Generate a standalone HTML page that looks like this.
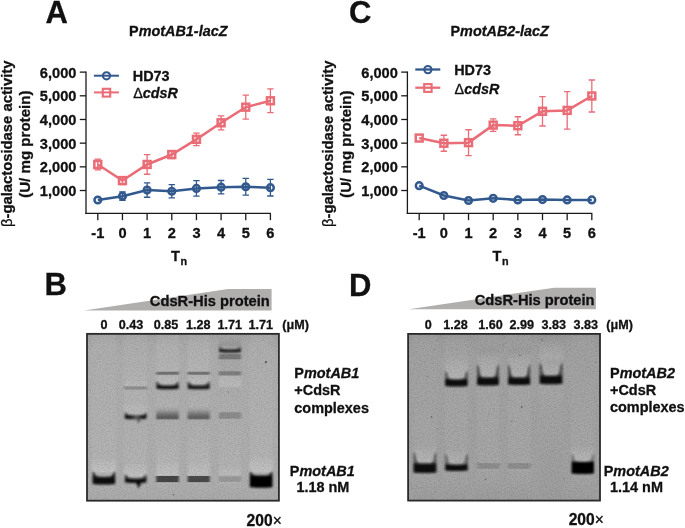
<!DOCTYPE html>
<html><head><meta charset="utf-8"><style>
html,body{margin:0;padding:0;background:#fff;}
svg{display:block;filter:blur(0.35px);}
text{font-family:"Liberation Sans", sans-serif;fill:#111;stroke:#111;stroke-width:0.3px;}
.tk{font-size:14.6px;font-weight:bold;}
.lg{font-size:14.4px;font-weight:bold;}
.ti{font-size:14.4px;font-weight:bold;}
.yl{font-weight:bold;}
.pl{font-size:31px;font-weight:bold;}
.gh{font-size:14.7px;font-weight:bold;}
.cc{font-size:12.6px;font-weight:bold;}
.gl{font-size:14.45px;font-weight:bold;}
</style></head><body>
<svg width="685" height="528" viewBox="0 0 685 528">
<defs>
<filter id="lb" x="-5%" y="-5%" width="110%" height="110%"><feGaussianBlur stdDeviation="1.1 0.5"/></filter>
<filter id="eb" x="-20%" y="-20%" width="140%" height="140%"><feGaussianBlur stdDeviation="0.8"/></filter>
<filter id="grainB" x="0" y="0" width="100%" height="100%" color-interpolation-filters="sRGB"><feTurbulence type="fractalNoise" baseFrequency="0.7" numOctaves="2" seed="4"/><feColorMatrix type="matrix" values="0.22 0 0 0 0.86  0.22 0 0 0 0.86  0.22 0 0 0 0.86  0 0 0 0 1"/><feGaussianBlur stdDeviation="0.35"/></filter>
<filter id="grainD" x="0" y="0" width="100%" height="100%" color-interpolation-filters="sRGB"><feTurbulence type="fractalNoise" baseFrequency="0.7" numOctaves="2" seed="9"/><feColorMatrix type="matrix" values="0.26 0 0 0 0.84  0.26 0 0 0 0.84  0.26 0 0 0 0.84  0 0 0 0 1"/><feGaussianBlur stdDeviation="0.35"/></filter>
<linearGradient id="Bbg" gradientUnits="userSpaceOnUse" x1="0" y1="333.85" x2="0" y2="500.70000000000005"><stop offset="0.0009" stop-color="#a2a2a2"/><stop offset="0.0488" stop-color="#aaaaaa"/><stop offset="0.1567" stop-color="#afafaf"/><stop offset="0.8759" stop-color="#afafaf"/><stop offset="0.9958" stop-color="#acacac"/></linearGradient><linearGradient id="Bl0" gradientUnits="userSpaceOnUse" x1="0" y1="333.85" x2="0" y2="500.70000000000005"><stop offset="0.0009" stop-color="#a9a9a9"/><stop offset="0.0668" stop-color="#b0b0b0"/><stop offset="0.6362" stop-color="#b4b4b4"/><stop offset="0.7441" stop-color="#b4b4b4"/><stop offset="0.7693" stop-color="#bbbbbb"/><stop offset="0.8190" stop-color="#c3c3c3"/><stop offset="0.8262" stop-color="#c3c3c3"/><stop offset="0.8340" stop-color="#b4b4b4"/><stop offset="0.9119" stop-color="#b0b0b0"/><stop offset="0.9958" stop-color="#acacac"/></linearGradient><linearGradient id="Bl1" gradientUnits="userSpaceOnUse" x1="0" y1="333.85" x2="0" y2="500.70000000000005"><stop offset="0.0009" stop-color="#a9a9a9"/><stop offset="0.0668" stop-color="#b0b0b0"/><stop offset="0.2646" stop-color="#b4b4b4"/><stop offset="0.2766" stop-color="#b4b4b4"/><stop offset="0.2874" stop-color="#b7b7b7"/><stop offset="0.3036" stop-color="#bababa"/><stop offset="0.3108" stop-color="#bababa"/><stop offset="0.3108" stop-color="#b4b4b4"/><stop offset="0.3180" stop-color="#919191"/><stop offset="0.3311" stop-color="#919191"/><stop offset="0.3383" stop-color="#b4b4b4"/><stop offset="0.4085" stop-color="#b4b4b4"/><stop offset="0.4300" stop-color="#b8b8b8"/><stop offset="0.4714" stop-color="#bbbbbb"/><stop offset="0.4786" stop-color="#bbbbbb"/><stop offset="0.4834" stop-color="#b4b4b4"/><stop offset="0.5223" stop-color="#b2b2b2"/><stop offset="0.7561" stop-color="#b4b4b4"/><stop offset="0.7740" stop-color="#b4b4b4"/><stop offset="0.7974" stop-color="#bbbbbb"/><stop offset="0.8430" stop-color="#c2c2c2"/><stop offset="0.8502" stop-color="#c2c2c2"/><stop offset="0.8580" stop-color="#b4b4b4"/><stop offset="0.9059" stop-color="#b0b0b0"/><stop offset="0.9958" stop-color="#acacac"/></linearGradient><linearGradient id="Bl2" gradientUnits="userSpaceOnUse" x1="0" y1="333.85" x2="0" y2="500.70000000000005"><stop offset="0.0009" stop-color="#a9a9a9"/><stop offset="0.0668" stop-color="#b2b2b2"/><stop offset="0.2047" stop-color="#b6b6b6"/><stop offset="0.2239" stop-color="#b6b6b6"/><stop offset="0.2310" stop-color="#737373"/><stop offset="0.2418" stop-color="#737373"/><stop offset="0.2490" stop-color="#b6b6b6"/><stop offset="0.2496" stop-color="#b6b6b6"/><stop offset="0.2649" stop-color="#bababa"/><stop offset="0.2916" stop-color="#bdbdbd"/><stop offset="0.2988" stop-color="#bdbdbd"/><stop offset="0.3066" stop-color="#b6b6b6"/><stop offset="0.3425" stop-color="#b0b0b0"/><stop offset="0.4324" stop-color="#b4b4b4"/><stop offset="0.4564" stop-color="#a4a4a4"/><stop offset="0.4804" stop-color="#797979"/><stop offset="0.4984" stop-color="#5e5e5e"/><stop offset="0.5079" stop-color="#666666"/><stop offset="0.5163" stop-color="#acacac"/><stop offset="0.5283" stop-color="#b0b0b0"/><stop offset="0.7561" stop-color="#b6b6b6"/><stop offset="0.7681" stop-color="#b6b6b6"/><stop offset="0.7932" stop-color="#bcbcbc"/><stop offset="0.8430" stop-color="#c1c1c1"/><stop offset="0.8478" stop-color="#b6b6b6"/><stop offset="0.8502" stop-color="#c1c1c1"/><stop offset="0.8550" stop-color="#444444"/><stop offset="0.8849" stop-color="#444444"/><stop offset="0.8921" stop-color="#b6b6b6"/><stop offset="0.8999" stop-color="#b0b0b0"/><stop offset="0.9958" stop-color="#acacac"/></linearGradient><linearGradient id="Bl3" gradientUnits="userSpaceOnUse" x1="0" y1="333.85" x2="0" y2="500.70000000000005"><stop offset="0.0009" stop-color="#a9a9a9"/><stop offset="0.0668" stop-color="#b2b2b2"/><stop offset="0.2047" stop-color="#b6b6b6"/><stop offset="0.2239" stop-color="#b6b6b6"/><stop offset="0.2310" stop-color="#757575"/><stop offset="0.2418" stop-color="#757575"/><stop offset="0.2490" stop-color="#b6b6b6"/><stop offset="0.2496" stop-color="#b6b6b6"/><stop offset="0.2649" stop-color="#bababa"/><stop offset="0.2916" stop-color="#bdbdbd"/><stop offset="0.2988" stop-color="#bdbdbd"/><stop offset="0.3066" stop-color="#b6b6b6"/><stop offset="0.3425" stop-color="#b0b0b0"/><stop offset="0.4324" stop-color="#b4b4b4"/><stop offset="0.4564" stop-color="#a4a4a4"/><stop offset="0.4804" stop-color="#7b7b7b"/><stop offset="0.4984" stop-color="#626262"/><stop offset="0.5079" stop-color="#6a6a6a"/><stop offset="0.5163" stop-color="#acacac"/><stop offset="0.5283" stop-color="#b0b0b0"/><stop offset="0.7561" stop-color="#b6b6b6"/><stop offset="0.7681" stop-color="#b6b6b6"/><stop offset="0.7932" stop-color="#bbbbbb"/><stop offset="0.8430" stop-color="#c0c0c0"/><stop offset="0.8478" stop-color="#b6b6b6"/><stop offset="0.8502" stop-color="#c0c0c0"/><stop offset="0.8550" stop-color="#4a4a4a"/><stop offset="0.8849" stop-color="#4a4a4a"/><stop offset="0.8921" stop-color="#b6b6b6"/><stop offset="0.8999" stop-color="#b0b0b0"/><stop offset="0.9958" stop-color="#acacac"/></linearGradient><linearGradient id="Bl4" gradientUnits="userSpaceOnUse" x1="0" y1="333.85" x2="0" y2="500.70000000000005"><stop offset="0.0009" stop-color="#a9a9a9"/><stop offset="0.0249" stop-color="#a4a4a4"/><stop offset="0.0668" stop-color="#9b9b9b"/><stop offset="0.0818" stop-color="#a9a9a9"/><stop offset="0.1184" stop-color="#acacac"/><stop offset="0.1256" stop-color="#797979"/><stop offset="0.1489" stop-color="#797979"/><stop offset="0.1561" stop-color="#acacac"/><stop offset="0.1687" stop-color="#aaaaaa"/><stop offset="0.2203" stop-color="#acacac"/><stop offset="0.2274" stop-color="#808080"/><stop offset="0.2448" stop-color="#808080"/><stop offset="0.2520" stop-color="#acacac"/><stop offset="0.2526" stop-color="#b6b6b6"/><stop offset="0.3126" stop-color="#bcbcbc"/><stop offset="0.3245" stop-color="#aeaeae"/><stop offset="0.4444" stop-color="#b0b0b0"/><stop offset="0.4660" stop-color="#b0b0b0"/><stop offset="0.4732" stop-color="#8d8d8d"/><stop offset="0.5055" stop-color="#8d8d8d"/><stop offset="0.5127" stop-color="#b0b0b0"/><stop offset="0.5163" stop-color="#b0b0b0"/><stop offset="0.7681" stop-color="#b4b4b4"/><stop offset="0.7920" stop-color="#b4b4b4"/><stop offset="0.8100" stop-color="#b9b9b9"/><stop offset="0.8430" stop-color="#bebebe"/><stop offset="0.8496" stop-color="#b4b4b4"/><stop offset="0.8502" stop-color="#bebebe"/><stop offset="0.8568" stop-color="#999999"/><stop offset="0.8831" stop-color="#999999"/><stop offset="0.8903" stop-color="#b4b4b4"/><stop offset="0.8999" stop-color="#b0b0b0"/><stop offset="0.9958" stop-color="#acacac"/></linearGradient><linearGradient id="Bl5" gradientUnits="userSpaceOnUse" x1="0" y1="333.85" x2="0" y2="500.70000000000005"><stop offset="0.0009" stop-color="#a9a9a9"/><stop offset="0.0668" stop-color="#b0b0b0"/><stop offset="0.6362" stop-color="#b4b4b4"/><stop offset="0.7321" stop-color="#b4b4b4"/><stop offset="0.7609" stop-color="#bbbbbb"/><stop offset="0.8190" stop-color="#c3c3c3"/><stop offset="0.8262" stop-color="#c3c3c3"/><stop offset="0.8340" stop-color="#b4b4b4"/><stop offset="0.9239" stop-color="#b0b0b0"/><stop offset="0.9958" stop-color="#acacac"/></linearGradient><linearGradient id="Dbg" gradientUnits="userSpaceOnUse" x1="0" y1="333.9" x2="0" y2="500.59999999999997"><stop offset="0.0006" stop-color="#989898"/><stop offset="0.0486" stop-color="#9f9f9f"/><stop offset="0.1566" stop-color="#a3a3a3"/><stop offset="0.8764" stop-color="#a3a3a3"/><stop offset="0.9964" stop-color="#a1a1a1"/></linearGradient><linearGradient id="Dl0" gradientUnits="userSpaceOnUse" x1="0" y1="333.9" x2="0" y2="500.59999999999997"><stop offset="0.0006" stop-color="#9d9d9d"/><stop offset="0.0666" stop-color="#a3a3a3"/><stop offset="0.6365" stop-color="#a7a7a7"/><stop offset="0.6725" stop-color="#a7a7a7"/><stop offset="0.7013" stop-color="#aeaeae"/><stop offset="0.7594" stop-color="#b6b6b6"/><stop offset="0.7666" stop-color="#b6b6b6"/><stop offset="0.8344" stop-color="#a7a7a7"/><stop offset="0.8764" stop-color="#a5a5a5"/><stop offset="0.9964" stop-color="#9f9f9f"/></linearGradient><linearGradient id="Dl1" gradientUnits="userSpaceOnUse" x1="0" y1="333.9" x2="0" y2="500.59999999999997"><stop offset="0.0006" stop-color="#9d9d9d"/><stop offset="0.0666" stop-color="#a3a3a3"/><stop offset="0.1326" stop-color="#a7a7a7"/><stop offset="0.1446" stop-color="#a7a7a7"/><stop offset="0.1806" stop-color="#aeaeae"/><stop offset="0.2555" stop-color="#b5b5b5"/><stop offset="0.2627" stop-color="#b5b5b5"/><stop offset="0.3125" stop-color="#a7a7a7"/><stop offset="0.6725" stop-color="#a7a7a7"/><stop offset="0.6965" stop-color="#a7a7a7"/><stop offset="0.7217" stop-color="#adadad"/><stop offset="0.7714" stop-color="#b2b2b2"/><stop offset="0.7786" stop-color="#b2b2b2"/><stop offset="0.8224" stop-color="#a7a7a7"/><stop offset="0.8644" stop-color="#a5a5a5"/><stop offset="0.9964" stop-color="#9f9f9f"/></linearGradient><linearGradient id="Dl2" gradientUnits="userSpaceOnUse" x1="0" y1="333.9" x2="0" y2="500.59999999999997"><stop offset="0.0006" stop-color="#9f9f9f"/><stop offset="0.0666" stop-color="#a1a1a1"/><stop offset="0.1026" stop-color="#9d9d9d"/><stop offset="0.1206" stop-color="#a3a3a3"/><stop offset="0.1206" stop-color="#a3a3a3"/><stop offset="0.1620" stop-color="#ababab"/><stop offset="0.2496" stop-color="#b3b3b3"/><stop offset="0.2567" stop-color="#b3b3b3"/><stop offset="0.3125" stop-color="#a7a7a7"/><stop offset="0.7265" stop-color="#a7a7a7"/><stop offset="0.7714" stop-color="#a9a9a9"/><stop offset="0.7786" stop-color="#8e8e8e"/><stop offset="0.8056" stop-color="#8e8e8e"/><stop offset="0.8128" stop-color="#a9a9a9"/><stop offset="0.8164" stop-color="#a7a7a7"/><stop offset="0.9964" stop-color="#9f9f9f"/></linearGradient><linearGradient id="Dl3" gradientUnits="userSpaceOnUse" x1="0" y1="333.9" x2="0" y2="500.59999999999997"><stop offset="0.0006" stop-color="#9f9f9f"/><stop offset="0.0666" stop-color="#a1a1a1"/><stop offset="0.1026" stop-color="#9d9d9d"/><stop offset="0.1206" stop-color="#a3a3a3"/><stop offset="0.1206" stop-color="#a3a3a3"/><stop offset="0.1620" stop-color="#ababab"/><stop offset="0.2496" stop-color="#b3b3b3"/><stop offset="0.2567" stop-color="#b3b3b3"/><stop offset="0.3125" stop-color="#a7a7a7"/><stop offset="0.7265" stop-color="#a7a7a7"/><stop offset="0.7714" stop-color="#a9a9a9"/><stop offset="0.7786" stop-color="#8e8e8e"/><stop offset="0.8056" stop-color="#8e8e8e"/><stop offset="0.8128" stop-color="#a9a9a9"/><stop offset="0.8164" stop-color="#a7a7a7"/><stop offset="0.9964" stop-color="#9f9f9f"/></linearGradient><linearGradient id="Dl4" gradientUnits="userSpaceOnUse" x1="0" y1="333.9" x2="0" y2="500.59999999999997"><stop offset="0.0006" stop-color="#989898"/><stop offset="0.0246" stop-color="#9a9a9a"/><stop offset="0.0666" stop-color="#a3a3a3"/><stop offset="0.0966" stop-color="#a7a7a7"/><stop offset="0.1416" stop-color="#adadad"/><stop offset="0.1686" stop-color="#a7a7a7"/><stop offset="0.2376" stop-color="#b2b2b2"/><stop offset="0.2448" stop-color="#b2b2b2"/><stop offset="0.3125" stop-color="#a7a7a7"/><stop offset="0.9964" stop-color="#9f9f9f"/></linearGradient><linearGradient id="Dl5" gradientUnits="userSpaceOnUse" x1="0" y1="333.9" x2="0" y2="500.59999999999997"><stop offset="0.0006" stop-color="#9d9d9d"/><stop offset="0.0666" stop-color="#a3a3a3"/><stop offset="0.6365" stop-color="#a7a7a7"/><stop offset="0.6725" stop-color="#a7a7a7"/><stop offset="0.7013" stop-color="#afafaf"/><stop offset="0.7594" stop-color="#b7b7b7"/><stop offset="0.7666" stop-color="#b7b7b7"/><stop offset="0.8464" stop-color="#a7a7a7"/><stop offset="0.8764" stop-color="#a5a5a5"/><stop offset="0.9964" stop-color="#9f9f9f"/></linearGradient>
</defs>
<rect width="685" height="528" fill="#fff"/>
<line x1="86.0" y1="71.52" x2="86.0" y2="214" stroke="#1a1a1a" stroke-width="1.3"/>
<line x1="79.8" y1="190.52" x2="86.0" y2="190.52" stroke="#1a1a1a" stroke-width="1.3"/>
<text x="76.4" y="196.12" text-anchor="end" class="tk">1,000</text>
<line x1="79.8" y1="166.84" x2="86.0" y2="166.84" stroke="#1a1a1a" stroke-width="1.3"/>
<text x="76.4" y="172.44" text-anchor="end" class="tk">2,000</text>
<line x1="79.8" y1="143.16" x2="86.0" y2="143.16" stroke="#1a1a1a" stroke-width="1.3"/>
<text x="76.4" y="148.76" text-anchor="end" class="tk">3,000</text>
<line x1="79.8" y1="119.48" x2="86.0" y2="119.48" stroke="#1a1a1a" stroke-width="1.3"/>
<text x="76.4" y="125.08" text-anchor="end" class="tk">4,000</text>
<line x1="79.8" y1="95.80" x2="86.0" y2="95.80" stroke="#1a1a1a" stroke-width="1.3"/>
<text x="76.4" y="101.40" text-anchor="end" class="tk">5,000</text>
<line x1="79.8" y1="72.12" x2="86.0" y2="72.12" stroke="#1a1a1a" stroke-width="1.3"/>
<text x="76.4" y="77.72" text-anchor="end" class="tk">6,000</text>
<line x1="85.35" y1="213.4" x2="270.9" y2="213.4" stroke="#1a1a1a" stroke-width="1.3"/>
<line x1="97.80" y1="213.4" x2="97.80" y2="220.2" stroke="#1a1a1a" stroke-width="1.3"/>
<text x="97.80" y="237.6" text-anchor="middle" class="tk">-1</text>
<line x1="122.46" y1="213.4" x2="122.46" y2="220.2" stroke="#1a1a1a" stroke-width="1.3"/>
<text x="122.46" y="237.6" text-anchor="middle" class="tk">0</text>
<line x1="147.12" y1="213.4" x2="147.12" y2="220.2" stroke="#1a1a1a" stroke-width="1.3"/>
<text x="147.12" y="237.6" text-anchor="middle" class="tk">1</text>
<line x1="171.78" y1="213.4" x2="171.78" y2="220.2" stroke="#1a1a1a" stroke-width="1.3"/>
<text x="171.78" y="237.6" text-anchor="middle" class="tk">2</text>
<line x1="196.44" y1="213.4" x2="196.44" y2="220.2" stroke="#1a1a1a" stroke-width="1.3"/>
<text x="196.44" y="237.6" text-anchor="middle" class="tk">3</text>
<line x1="221.10" y1="213.4" x2="221.10" y2="220.2" stroke="#1a1a1a" stroke-width="1.3"/>
<text x="221.10" y="237.6" text-anchor="middle" class="tk">4</text>
<line x1="245.76" y1="213.4" x2="245.76" y2="220.2" stroke="#1a1a1a" stroke-width="1.3"/>
<text x="245.76" y="237.6" text-anchor="middle" class="tk">5</text>
<line x1="270.42" y1="213.4" x2="270.42" y2="220.2" stroke="#1a1a1a" stroke-width="1.3"/>
<text x="270.42" y="237.6" text-anchor="middle" class="tk">6</text>
<text x="171.1" y="261.2" class="tk">T<tspan font-size="10.8" dy="3.3" dx="0.6">n</tspan></text>
<path d="M97.80 159.07V169.87M94.60 159.07h6.4M94.60 169.87h6.4" stroke="#e96c76" stroke-width="1.3" fill="none"/>
<path d="M122.46 176.57V184.57M119.26 176.57h6.4M119.26 184.57h6.4" stroke="#e96c76" stroke-width="1.3" fill="none"/>
<path d="M147.12 154.67V174.27M143.92 154.67h6.4M143.92 174.27h6.4" stroke="#e96c76" stroke-width="1.3" fill="none"/>
<path d="M171.78 150.53V158.53M168.58 150.53h6.4M168.58 158.53h6.4" stroke="#e96c76" stroke-width="1.3" fill="none"/>
<path d="M196.44 133.07V145.67M193.24 133.07h6.4M193.24 145.67h6.4" stroke="#e96c76" stroke-width="1.3" fill="none"/>
<path d="M221.10 115.80V129.80M217.90 115.80h6.4M217.90 129.80h6.4" stroke="#e96c76" stroke-width="1.3" fill="none"/>
<path d="M245.76 95.17V119.17M242.56 95.17h6.4M242.56 119.17h6.4" stroke="#e96c76" stroke-width="1.3" fill="none"/>
<path d="M270.42 88.97V112.57M267.22 88.97h6.4M267.22 112.57h6.4" stroke="#e96c76" stroke-width="1.3" fill="none"/>
<path d="M97.80 164.47 L122.46 180.57 L147.12 164.47 L171.78 154.53 L196.44 139.37 L221.10 122.80 L245.76 107.17 L270.42 100.77" stroke="#e96c76" stroke-width="2.5" fill="none"/>
<rect x="94.35" y="161.02" width="6.9" height="6.9" stroke="#e96c76" stroke-width="2.5" fill="none"/>
<rect x="119.01" y="177.12" width="6.9" height="6.9" stroke="#e96c76" stroke-width="2.5" fill="none"/>
<rect x="143.67" y="161.02" width="6.9" height="6.9" stroke="#e96c76" stroke-width="2.5" fill="none"/>
<rect x="168.33" y="151.08" width="6.9" height="6.9" stroke="#e96c76" stroke-width="2.5" fill="none"/>
<rect x="192.99" y="135.92" width="6.9" height="6.9" stroke="#e96c76" stroke-width="2.5" fill="none"/>
<rect x="217.65" y="119.35" width="6.9" height="6.9" stroke="#e96c76" stroke-width="2.5" fill="none"/>
<rect x="242.31" y="103.72" width="6.9" height="6.9" stroke="#e96c76" stroke-width="2.5" fill="none"/>
<rect x="266.97" y="97.32" width="6.9" height="6.9" stroke="#e96c76" stroke-width="2.5" fill="none"/>
<path d="M122.46 192.00V200.40M119.26 192.00h6.4M119.26 200.40h6.4" stroke="#32598d" stroke-width="1.3" fill="none"/>
<path d="M147.12 182.85V197.25M143.92 182.85h6.4M143.92 197.25h6.4" stroke="#32598d" stroke-width="1.3" fill="none"/>
<path d="M171.78 184.53V197.93M168.58 184.53h6.4M168.58 197.93h6.4" stroke="#32598d" stroke-width="1.3" fill="none"/>
<path d="M196.44 180.69V196.09M193.24 180.69h6.4M193.24 196.09h6.4" stroke="#32598d" stroke-width="1.3" fill="none"/>
<path d="M221.10 180.50V193.90M217.90 180.50h6.4M217.90 193.90h6.4" stroke="#32598d" stroke-width="1.3" fill="none"/>
<path d="M245.76 178.43V195.03M242.56 178.43h6.4M242.56 195.03h6.4" stroke="#32598d" stroke-width="1.3" fill="none"/>
<path d="M270.42 179.38V195.98M267.22 179.38h6.4M267.22 195.98h6.4" stroke="#32598d" stroke-width="1.3" fill="none"/>
<path d="M97.80 199.99 L122.46 196.20 L147.12 190.05 L171.78 191.23 L196.44 188.39 L221.10 187.20 L245.76 186.73 L270.42 187.68" stroke="#32598d" stroke-width="2.5" fill="none"/>
<circle cx="97.80" cy="199.99" r="3.35" stroke="#32598d" stroke-width="2.5" fill="none"/>
<circle cx="122.46" cy="196.20" r="3.35" stroke="#32598d" stroke-width="2.5" fill="none"/>
<circle cx="147.12" cy="190.05" r="3.35" stroke="#32598d" stroke-width="2.5" fill="none"/>
<circle cx="171.78" cy="191.23" r="3.35" stroke="#32598d" stroke-width="2.5" fill="none"/>
<circle cx="196.44" cy="188.39" r="3.35" stroke="#32598d" stroke-width="2.5" fill="none"/>
<circle cx="221.10" cy="187.20" r="3.35" stroke="#32598d" stroke-width="2.5" fill="none"/>
<circle cx="245.76" cy="186.73" r="3.35" stroke="#32598d" stroke-width="2.5" fill="none"/>
<circle cx="270.42" cy="187.68" r="3.35" stroke="#32598d" stroke-width="2.5" fill="none"/>
<line x1="93.9" y1="75.7" x2="118.9" y2="75.7" stroke="#32598d" stroke-width="2.0"/>
<circle cx="106.5" cy="75.8" r="3.6" stroke="#32598d" stroke-width="2.1" fill="none"/>
<line x1="93.9" y1="92.4" x2="118.9" y2="92.4" stroke="#e96c76" stroke-width="2.0"/>
<rect x="102.8" y="88.80000000000001" width="7.4" height="7.8" stroke="#e96c76" stroke-width="2.1" fill="none"/>
<text x="132.8" y="81.1" class="lg">HD73</text>
<text x="133.2" y="97.9" class="lg"><tspan font-weight="normal">&#916;</tspan><tspan font-style="italic">cdsR</tspan></text>
<text x="129.1" y="36.1" class="ti"><tspan font-style="normal">P</tspan><tspan font-style="italic">motAB1-lacZ</tspan></text>
<text transform="translate(11.5,143.79999999999998) rotate(-90)" text-anchor="middle" class="yl" font-size="14.8"><tspan font-weight="normal">&#946;</tspan>-galactosidase activity</text>
<text transform="translate(29.5,144.2) rotate(-90)" text-anchor="middle" class="yl" font-size="15.1">(U/ mg protein)</text>
<line x1="407.4" y1="71.52" x2="407.4" y2="214" stroke="#1a1a1a" stroke-width="1.3"/>
<line x1="401.2" y1="190.52" x2="407.4" y2="190.52" stroke="#1a1a1a" stroke-width="1.3"/>
<text x="397.79999999999995" y="196.12" text-anchor="end" class="tk">1,000</text>
<line x1="401.2" y1="166.84" x2="407.4" y2="166.84" stroke="#1a1a1a" stroke-width="1.3"/>
<text x="397.79999999999995" y="172.44" text-anchor="end" class="tk">2,000</text>
<line x1="401.2" y1="143.16" x2="407.4" y2="143.16" stroke="#1a1a1a" stroke-width="1.3"/>
<text x="397.79999999999995" y="148.76" text-anchor="end" class="tk">3,000</text>
<line x1="401.2" y1="119.48" x2="407.4" y2="119.48" stroke="#1a1a1a" stroke-width="1.3"/>
<text x="397.79999999999995" y="125.08" text-anchor="end" class="tk">4,000</text>
<line x1="401.2" y1="95.80" x2="407.4" y2="95.80" stroke="#1a1a1a" stroke-width="1.3"/>
<text x="397.79999999999995" y="101.40" text-anchor="end" class="tk">5,000</text>
<line x1="401.2" y1="72.12" x2="407.4" y2="72.12" stroke="#1a1a1a" stroke-width="1.3"/>
<text x="397.79999999999995" y="77.72" text-anchor="end" class="tk">6,000</text>
<line x1="406.75" y1="213.4" x2="592.3" y2="213.4" stroke="#1a1a1a" stroke-width="1.3"/>
<line x1="419.20" y1="213.4" x2="419.20" y2="220.2" stroke="#1a1a1a" stroke-width="1.3"/>
<text x="419.20" y="237.6" text-anchor="middle" class="tk">-1</text>
<line x1="443.86" y1="213.4" x2="443.86" y2="220.2" stroke="#1a1a1a" stroke-width="1.3"/>
<text x="443.86" y="237.6" text-anchor="middle" class="tk">0</text>
<line x1="468.52" y1="213.4" x2="468.52" y2="220.2" stroke="#1a1a1a" stroke-width="1.3"/>
<text x="468.52" y="237.6" text-anchor="middle" class="tk">1</text>
<line x1="493.18" y1="213.4" x2="493.18" y2="220.2" stroke="#1a1a1a" stroke-width="1.3"/>
<text x="493.18" y="237.6" text-anchor="middle" class="tk">2</text>
<line x1="517.84" y1="213.4" x2="517.84" y2="220.2" stroke="#1a1a1a" stroke-width="1.3"/>
<text x="517.84" y="237.6" text-anchor="middle" class="tk">3</text>
<line x1="542.50" y1="213.4" x2="542.50" y2="220.2" stroke="#1a1a1a" stroke-width="1.3"/>
<text x="542.50" y="237.6" text-anchor="middle" class="tk">4</text>
<line x1="567.16" y1="213.4" x2="567.16" y2="220.2" stroke="#1a1a1a" stroke-width="1.3"/>
<text x="567.16" y="237.6" text-anchor="middle" class="tk">5</text>
<line x1="591.82" y1="213.4" x2="591.82" y2="220.2" stroke="#1a1a1a" stroke-width="1.3"/>
<text x="591.82" y="237.6" text-anchor="middle" class="tk">6</text>
<text x="492.5" y="261.2" class="tk">T<tspan font-size="10.8" dy="3.3" dx="0.6">n</tspan></text>
<path d="M443.86 135.23V151.23M440.66 135.23h6.4M440.66 151.23h6.4" stroke="#e96c76" stroke-width="1.3" fill="none"/>
<path d="M468.52 129.74V155.54M465.32 129.74h6.4M465.32 155.54h6.4" stroke="#e96c76" stroke-width="1.3" fill="none"/>
<path d="M493.18 118.82V131.42M489.98 118.82h6.4M489.98 131.42h6.4" stroke="#e96c76" stroke-width="1.3" fill="none"/>
<path d="M517.84 116.73V134.73M514.64 116.73h6.4M514.64 134.73h6.4" stroke="#e96c76" stroke-width="1.3" fill="none"/>
<path d="M542.50 96.61V126.01M539.30 96.61h6.4M539.30 126.01h6.4" stroke="#e96c76" stroke-width="1.3" fill="none"/>
<path d="M567.16 91.71V129.11M563.96 91.71h6.4M563.96 129.11h6.4" stroke="#e96c76" stroke-width="1.3" fill="none"/>
<path d="M591.82 79.99V111.99M588.62 79.99h6.4M588.62 111.99h6.4" stroke="#e96c76" stroke-width="1.3" fill="none"/>
<path d="M419.20 138.05 L443.86 143.23 L468.52 142.64 L493.18 125.12 L517.84 125.73 L542.50 111.31 L567.16 110.41 L591.82 95.99" stroke="#e96c76" stroke-width="2.5" fill="none"/>
<rect x="415.75" y="134.60" width="6.9" height="6.9" stroke="#e96c76" stroke-width="2.5" fill="none"/>
<rect x="440.41" y="139.78" width="6.9" height="6.9" stroke="#e96c76" stroke-width="2.5" fill="none"/>
<rect x="465.07" y="139.19" width="6.9" height="6.9" stroke="#e96c76" stroke-width="2.5" fill="none"/>
<rect x="489.73" y="121.67" width="6.9" height="6.9" stroke="#e96c76" stroke-width="2.5" fill="none"/>
<rect x="514.39" y="122.28" width="6.9" height="6.9" stroke="#e96c76" stroke-width="2.5" fill="none"/>
<rect x="539.05" y="107.86" width="6.9" height="6.9" stroke="#e96c76" stroke-width="2.5" fill="none"/>
<rect x="563.71" y="106.96" width="6.9" height="6.9" stroke="#e96c76" stroke-width="2.5" fill="none"/>
<rect x="588.37" y="92.54" width="6.9" height="6.9" stroke="#e96c76" stroke-width="2.5" fill="none"/>
<path d="M419.20 185.67 L443.86 195.49 L468.52 200.49 L493.18 198.29 L517.84 199.90 L542.50 199.59 L567.16 199.90 L591.82 199.90" stroke="#32598d" stroke-width="2.5" fill="none"/>
<circle cx="419.20" cy="185.67" r="3.35" stroke="#32598d" stroke-width="2.5" fill="none"/>
<circle cx="443.86" cy="195.49" r="3.35" stroke="#32598d" stroke-width="2.5" fill="none"/>
<circle cx="468.52" cy="200.49" r="3.35" stroke="#32598d" stroke-width="2.5" fill="none"/>
<circle cx="493.18" cy="198.29" r="3.35" stroke="#32598d" stroke-width="2.5" fill="none"/>
<circle cx="517.84" cy="199.90" r="3.35" stroke="#32598d" stroke-width="2.5" fill="none"/>
<circle cx="542.50" cy="199.59" r="3.35" stroke="#32598d" stroke-width="2.5" fill="none"/>
<circle cx="567.16" cy="199.90" r="3.35" stroke="#32598d" stroke-width="2.5" fill="none"/>
<circle cx="591.82" cy="199.90" r="3.35" stroke="#32598d" stroke-width="2.5" fill="none"/>
<line x1="415.29999999999995" y1="69.5" x2="440.29999999999995" y2="69.5" stroke="#32598d" stroke-width="2.3"/>
<circle cx="427.9" cy="69.6" r="3.6" stroke="#32598d" stroke-width="2.1" fill="none"/>
<line x1="415.29999999999995" y1="87.7" x2="440.29999999999995" y2="87.7" stroke="#e96c76" stroke-width="2.3"/>
<rect x="424.2" y="84.10000000000001" width="7.4" height="7.8" stroke="#e96c76" stroke-width="2.1" fill="none"/>
<text x="454.2" y="74.8" class="lg">HD73</text>
<text x="454.59999999999997" y="93.6" class="lg"><tspan font-weight="normal">&#916;</tspan><tspan font-style="italic">cdsR</tspan></text>
<text x="450.5" y="36.1" class="ti"><tspan font-style="normal">P</tspan><tspan font-style="italic">motAB2-lacZ</tspan></text>
<text transform="translate(332.9,143.79999999999998) rotate(-90)" text-anchor="middle" class="yl" font-size="14.8"><tspan font-weight="normal">&#946;</tspan>-galactosidase activity</text>
<text transform="translate(350.9,144.2) rotate(-90)" text-anchor="middle" class="yl" font-size="15.1">(U/ mg protein)</text>
<rect x="87.0" y="333.85" width="191.9" height="166.85" fill="url(#Bbg)"/>
<g filter="url(#lb)">
<rect x="91.5" y="334.85" width="24.5" height="164.85" fill="url(#Bl0)"/>
<rect x="124.2" y="334.85" width="22.8" height="164.85" fill="url(#Bl1)"/>
<rect x="156.2" y="334.85" width="22.6" height="164.85" fill="url(#Bl2)"/>
<rect x="187.6" y="334.85" width="22.2" height="164.85" fill="url(#Bl3)"/>
<rect x="218.9" y="334.85" width="22.2" height="164.85" fill="url(#Bl4)"/>
<rect x="249.6" y="334.85" width="23.2" height="164.85" fill="url(#Bl5)"/>
</g>
<g filter="url(#eb)"><path d="M92.60 476.50 Q103.90 477.30 115.20 476.50 L115.20 483.90 Q103.90 484.90 92.60 483.90 Z" fill="#070707"/><path d="M92.60 471.50 L94.80 473.25 Q95.24 476.50 99.20 476.70 L92.60 477.00 Z" fill="#070707" opacity="0.75"/><path d="M115.20 471.50 L113.00 473.25 Q112.56 476.50 108.60 476.70 L115.20 477.00 Z" fill="#070707" opacity="0.75"/><path d="M124.90 478.30 Q135.65 479.10 146.40 478.30 L146.40 482.50 Q135.65 483.50 124.90 482.50 Z" fill="#0e0e0e"/><path d="M124.90 474.50 L127.10 475.83 Q127.54 478.30 131.50 478.50 L124.90 478.80 Z" fill="#0e0e0e" opacity="0.75"/><path d="M146.40 474.50 L144.20 475.83 Q143.76 478.30 139.80 478.50 L146.40 478.80 Z" fill="#0e0e0e" opacity="0.75"/><path d="M135.6 482 L141.6 482 L138.6 488.3 Z" fill="#111"/><linearGradient id="hgL2" x1="0" y1="0" x2="1" y2="0"><stop offset="0" stop-color="#0a0a0a"/><stop offset="0.3" stop-color="#1a1a1a"/><stop offset="0.55" stop-color="#5a5a5a"/><stop offset="0.75" stop-color="#1a1a1a"/><stop offset="1" stop-color="#0a0a0a"/></linearGradient><path d="M124.90 415.00 Q135.65 415.80 146.40 415.00 L146.40 418.70 Q135.65 419.70 124.90 418.70 Z" fill="url(#hgL2)"/><path d="M124.90 412.50 L127.10 413.38 Q127.54 415.00 131.50 415.20 L124.90 415.50 Z" fill="url(#hgL2)" opacity="0.75"/><path d="M146.40 412.50 L144.20 413.38 Q143.76 415.00 139.80 415.20 L146.40 415.50 Z" fill="url(#hgL2)" opacity="0.75"/><path d="M135.6 418.5 L141.6 418.5 L138.7 423.5 Z" fill="#666"/><path d="M156.40 385.20 Q167.55 386.00 178.70 385.20 L178.70 388.70 Q167.55 389.70 156.40 388.70 Z" fill="#0f0f0f"/><path d="M156.40 381.50 L158.60 382.80 Q159.04 385.20 163.00 385.40 L156.40 385.70 Z" fill="#0f0f0f" opacity="0.75"/><path d="M178.70 381.50 L176.50 382.80 Q176.06 385.20 172.10 385.40 L178.70 385.70 Z" fill="#0f0f0f" opacity="0.75"/><path d="M187.70 385.20 Q198.70 386.00 209.70 385.20 L209.70 388.70 Q198.70 389.70 187.70 388.70 Z" fill="#121212"/><path d="M187.70 381.50 L189.90 382.80 Q190.34 385.20 194.30 385.40 L187.70 385.70 Z" fill="#121212" opacity="0.75"/><path d="M209.70 381.50 L207.50 382.80 Q207.06 385.20 203.10 385.40 L209.70 385.70 Z" fill="#121212" opacity="0.75"/><path d="M219.00 349.00 Q230.00 349.80 241.00 349.00 L241.00 352.00 Q230.00 353.00 219.00 352.00 Z" fill="#1c1c1c"/><path d="M219.00 346.50 L221.20 347.38 Q221.64 349.00 225.60 349.20 L219.00 349.50 Z" fill="#1c1c1c" opacity="0.5"/><path d="M241.00 346.50 L238.80 347.38 Q238.36 349.00 234.40 349.20 L241.00 349.50 Z" fill="#1c1c1c" opacity="0.5"/><path d="M249.80 475.20 Q261.15 476.00 272.50 475.20 L272.50 487.20 Q261.15 488.20 249.80 487.20 Z" fill="#050505"/><path d="M249.80 471.50 L252.00 472.80 Q252.44 475.20 256.40 475.40 L249.80 475.70 Z" fill="#050505" opacity="0.75"/><path d="M272.50 471.50 L270.30 472.80 Q269.86 475.20 265.90 475.40 L272.50 475.70 Z" fill="#050505" opacity="0.75"/></g>
<rect x="87.0" y="333.85" width="191.9" height="166.85" fill="#fff" filter="url(#grainB)" style="mix-blend-mode:multiply"/>
<g opacity="0.8"><circle cx="265.8" cy="362.2" r="1.10" fill="#464646"/><circle cx="228.3" cy="392.0" r="0.70" fill="#6e6e6e"/><circle cx="221.0" cy="417.5" r="0.60" fill="#6e6e6e"/><circle cx="173.5" cy="494.8" r="0.80" fill="#5a5a5a"/><circle cx="190.8" cy="426.8" r="0.60" fill="#787878"/><circle cx="136.0" cy="349.0" r="0.60" fill="#787878"/><circle cx="121.0" cy="342.0" r="0.50" fill="#787878"/><circle cx="155.0" cy="464.0" r="0.50" fill="#828282"/><circle cx="248.0" cy="384.0" r="0.50" fill="#787878"/></g>
<rect x="87.0" y="333.85" width="191.9" height="166.85" fill="none" stroke="#2a2a2a" stroke-width="1.8"/>
<rect x="408.1" y="333.9" width="191.9" height="166.7" fill="url(#Dbg)"/>
<g filter="url(#lb)">
<rect x="413.3" y="334.9" width="23.4" height="164.7" fill="url(#Dl0)"/>
<rect x="445.0" y="334.9" width="22.8" height="164.7" fill="url(#Dl1)"/>
<rect x="476.8" y="334.9" width="22.4" height="164.7" fill="url(#Dl2)"/>
<rect x="507.8" y="334.9" width="22.6" height="164.7" fill="url(#Dl3)"/>
<rect x="539.4" y="334.9" width="23.2" height="164.7" fill="url(#Dl4)"/>
<rect x="570.8" y="334.9" width="23.4" height="164.7" fill="url(#Dl5)"/>
</g>
<g filter="url(#eb)"><path d="M413.50 463.20 Q424.95 464.00 436.40 463.20 L436.40 472.50 Q424.95 473.50 413.50 472.50 Z" fill="#080808"/><path d="M413.50 451.00 L415.70 455.27 Q416.14 463.20 420.10 463.40 L413.50 463.70 Z" fill="#080808" opacity="0.5"/><path d="M436.40 451.00 L434.20 455.27 Q433.76 463.20 429.80 463.40 L436.40 463.70 Z" fill="#080808" opacity="0.5"/><path d="M445.10 379.00 Q456.40 379.80 467.70 379.00 L467.70 385.90 Q456.40 386.90 445.10 385.90 Z" fill="#0d0d0d"/><path d="M445.10 370.50 L447.30 373.48 Q447.74 379.00 451.70 379.20 L445.10 379.50 Z" fill="#0d0d0d" opacity="0.6"/><path d="M467.70 370.50 L465.50 373.48 Q465.06 379.00 461.10 379.20 L467.70 379.50 Z" fill="#0d0d0d" opacity="0.6"/><path d="M445.10 464.30 Q456.45 465.10 467.80 464.30 L467.80 470.50 Q456.45 471.50 445.10 470.50 Z" fill="#101010"/><path d="M445.10 453.00 L447.30 456.95 Q447.74 464.30 451.70 464.50 L445.10 464.80 Z" fill="#101010" opacity="0.5"/><path d="M467.80 453.00 L465.60 456.95 Q465.16 464.30 461.20 464.50 L467.80 464.80 Z" fill="#101010" opacity="0.5"/><path d="M477.00 377.20 Q487.95 378.00 498.90 377.20 L498.90 385.00 Q487.95 386.00 477.00 385.00 Z" fill="#0a0a0a"/><path d="M477.00 363.50 L479.20 368.30 Q479.64 377.20 483.60 377.40 L477.00 377.70 Z" fill="#0a0a0a" opacity="0.6"/><path d="M498.90 363.50 L496.70 368.30 Q496.26 377.20 492.30 377.40 L498.90 377.70 Z" fill="#0a0a0a" opacity="0.6"/><path d="M508.00 377.20 Q519.10 378.00 530.20 377.20 L530.20 384.50 Q519.10 385.50 508.00 384.50 Z" fill="#0a0a0a"/><path d="M508.00 363.50 L510.20 368.30 Q510.64 377.20 514.60 377.40 L508.00 377.70 Z" fill="#0a0a0a" opacity="0.6"/><path d="M530.20 363.50 L528.00 368.30 Q527.56 377.20 523.60 377.40 L530.20 377.70 Z" fill="#0a0a0a" opacity="0.6"/><path d="M539.60 375.40 Q551.00 376.20 562.40 375.40 L562.40 383.70 Q551.00 384.70 539.60 383.70 Z" fill="#0a0a0a"/><path d="M539.60 362.00 L541.80 366.69 Q542.24 375.40 546.20 375.60 L539.60 375.90 Z" fill="#0a0a0a" opacity="0.65"/><path d="M562.40 362.00 L560.20 366.69 Q559.76 375.40 555.80 375.60 L562.40 375.90 Z" fill="#0a0a0a" opacity="0.65"/><path d="M571.50 461.50 Q582.75 462.30 594.00 461.50 L594.00 473.50 Q582.75 474.50 571.50 473.50 Z" fill="#050505"/><path d="M571.50 453.00 L573.70 455.98 Q574.14 461.50 578.10 461.70 L571.50 462.00 Z" fill="#050505" opacity="0.35"/><path d="M594.00 453.00 L591.80 455.98 Q591.36 461.50 587.40 461.70 L594.00 462.00 Z" fill="#050505" opacity="0.35"/></g>
<rect x="408.1" y="333.9" width="191.9" height="166.7" fill="#fff" filter="url(#grainD)" style="mix-blend-mode:multiply"/>
<g opacity="0.8"><circle cx="434.2" cy="349.2" r="0.70" fill="#646464"/><circle cx="427.6" cy="376.4" r="0.60" fill="#6e6e6e"/><circle cx="431.5" cy="416.9" r="0.80" fill="#5a5a5a"/><circle cx="438.2" cy="428.5" r="0.60" fill="#6e6e6e"/><circle cx="520.0" cy="355.5" r="0.80" fill="#5a5a5a"/><circle cx="521.7" cy="407.0" r="0.90" fill="#505050"/><circle cx="511.8" cy="421.2" r="0.70" fill="#646464"/><circle cx="542.0" cy="340.0" r="0.80" fill="#5a5a5a"/><circle cx="595.7" cy="362.2" r="0.70" fill="#646464"/><circle cx="564.2" cy="478.3" r="0.60" fill="#6e6e6e"/><circle cx="485.6" cy="479.3" r="0.80" fill="#5a5a5a"/><circle cx="478.5" cy="462.5" r="0.60" fill="#646464"/><circle cx="413.0" cy="373.0" r="0.60" fill="#787878"/><circle cx="456.0" cy="395.0" r="0.50" fill="#787878"/><circle cx="503.0" cy="346.0" r="0.50" fill="#787878"/><circle cx="588.0" cy="438.0" r="0.50" fill="#787878"/><circle cx="470.0" cy="420.0" r="0.50" fill="#787878"/><circle cx="413.0" cy="488.0" r="0.60" fill="#6e6e6e"/></g>
<rect x="408.1" y="333.9" width="191.9" height="166.7" fill="none" stroke="#2a2a2a" stroke-width="1.8"/>
<path d="M84 310.4 L228 289.1 L271.6 289.1 L271.6 310.4 Z" fill="#b1aeae"/>
<text x="269.8" y="306.1" text-anchor="end" class="gh">CdsR-His protein</text>
<text x="103.9" y="328.6" text-anchor="middle" class="cc">0</text>
<text x="131" y="328.6" text-anchor="middle" class="cc">0.43</text>
<text x="166" y="328.6" text-anchor="middle" class="cc">0.85</text>
<text x="198.3" y="328.6" text-anchor="middle" class="cc">1.28</text>
<text x="229.8" y="328.6" text-anchor="middle" class="cc">1.71</text>
<text x="260.8" y="328.6" text-anchor="middle" class="cc">1.71</text>
<text x="282.3" y="328.6" class="cc">(&#956;M)</text>
<path d="M408.8 309.2 L554 287.7 L595.9 287.7 L595.9 309.2 Z" fill="#b1aeae"/>
<text x="594.6" y="305.0" text-anchor="end" class="gh">CdsR-His protein</text>
<text x="428.3" y="328.6" text-anchor="middle" class="cc">0</text>
<text x="455.6" y="328.6" text-anchor="middle" class="cc">1.28</text>
<text x="490.4" y="328.6" text-anchor="middle" class="cc">1.60</text>
<text x="521.8" y="328.6" text-anchor="middle" class="cc">2.99</text>
<text x="553.8" y="328.6" text-anchor="middle" class="cc">3.83</text>
<text x="585.7" y="328.6" text-anchor="middle" class="cc">3.83</text>
<text x="606.3" y="328.6" class="cc">(&#956;M)</text>

<text x="45.5" y="23.1" class="pl">A</text>
<text x="349.1" y="23.2" class="pl">C</text>
<text x="44.4" y="295.1" class="pl">B</text>
<text x="349" y="295.6" class="pl">D</text>
<text x="294.3" y="377.9" class="gl"><tspan font-style="normal">P</tspan><tspan font-style="italic">motAB1</tspan></text>
<text x="294.3" y="394.9" class="gl">+CdsR</text>
<text x="294.3" y="412.6" class="gl">complexes</text>
<text x="289.8" y="475.7" class="gl"><tspan font-style="normal">P</tspan><tspan font-style="italic">motAB1</tspan></text>
<text x="296.4" y="492.2" class="gl">1.18 nM</text>
<text x="246.6" y="525.5" class="gl" style="font-size:15.6px">200<tspan font-weight="normal">&#215;</tspan></text>
<text x="610" y="377.6" class="gl"><tspan font-style="normal">P</tspan><tspan font-style="italic">motAB2</tspan></text>
<text x="610" y="394.9" class="gl">+CdsR</text>
<text x="610" y="412.3" class="gl">complexes</text>
<text x="603.7" y="475.7" class="gl"><tspan font-style="normal">P</tspan><tspan font-style="italic">motAB2</tspan></text>
<text x="610" y="491.6" class="gl">1.14 nM</text>
<text x="568.7" y="524.8" class="gl" style="font-size:15.6px">200<tspan font-weight="normal">&#215;</tspan></text>

</svg>
</body></html>
